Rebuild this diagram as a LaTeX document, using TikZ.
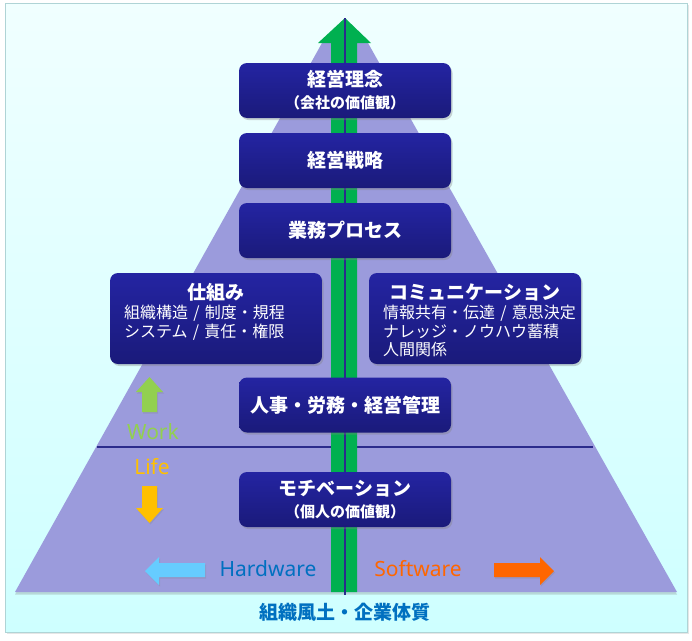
\documentclass[tikz,border=0pt]{standalone}
\usepackage{fontspec}
\setmainfont{Noto Sans CJK JP}
\newfontfamily\latinfont{Noto Sans}
\usetikzlibrary{positioning, shadows}
\definecolor{bgtop}{RGB}{240,255,255}
\definecolor{bgbot}{RGB}{206,255,255}
\definecolor{frameline}{RGB}{175,212,214}
\definecolor{pyramid}{RGB}{155,155,220}
\definecolor{boxtop}{RGB}{36,36,162}
\definecolor{boxbot}{RGB}{26,26,122}
\definecolor{axisgreen}{RGB}{0,176,80}
\definecolor{axisline}{RGB}{43,43,140}
\definecolor{workgreen}{RGB}{146,208,80}
\definecolor{lifeyellow}{RGB}{255,192,0}
\definecolor{hardblue}{RGB}{0,112,192}
\definecolor{hardarrow}{RGB}{102,204,255}
\definecolor{softorange}{RGB}{255,102,0}
\tikzstyle{level} = [rectangle, rounded corners=8pt, minimum width=212pt, minimum height=55pt, text centered, draw=none, top color=boxtop, bottom color=boxbot, text=white, font=\fontsize{19}{22}\selectfont\bfseries, drop shadow={shadow xshift=1.5pt, shadow yshift=-2pt, opacity=0.35}]
\tikzstyle{mech} = [level, minimum height=91pt, text width=184pt, align=left, text height=18pt, text depth=57pt, inner xsep=14pt, inner ysep=8pt, font=\fontsize{16}{18.5}\selectfont]
\tikzstyle{side} = [font=\latinfont\fontsize{21}{21}\selectfont]
\tikzstyle{blockarrow} = [draw=none, drop shadow={shadow xshift=1pt, shadow yshift=-1.5pt, opacity=0.25}]

\begin{document}
\begin{tikzpicture}[x=1pt, y=-1pt, node distance=70pt]
	\useasboundingbox (0,0) rectangle (692,640);
	% 背景とピラミッド
	\draw[frameline, top color=bgtop, bottom color=bgbot, drop shadow={shadow xshift=2pt, shadow yshift=-2pt, opacity=0.2}] (5,3) rectangle (687,632);
	\fill[pyramid, drop shadow={shadow xshift=0pt, shadow yshift=-2.5pt, opacity=0.3}] (322,43) -- (368,43) -- (677,592) -- (15,592) -- cycle;
	\draw[axisline, line width=2pt] (97,447) -- (593,447);
	% 中心の軸
	\coordinate (apex) at (345,18);
	\coordinate (foot) at (345,595);
	\fill[axisgreen] (apex) -- (371,43) -- (357,43) -- (357,592) -- (331,592) -- (331,43) -- (318,43) -- cycle;
	\draw[axisline, line width=2pt] (apex) -- (foot);
	% 各階層
	\node (KR) [level, align=center] at (345,90.5) {経営理念\\{\fontsize{15}{22}\selectfont （会社の価値観）}};
	\node (SR) [level, below of=KR] {経営戦略};
	\node (PR) [level, below of=SR] {業務プロセス};
	\node (SK) [mech] at (216,318.5) {\makebox[184pt]{\fontsize{19}{19}\selectfont\bfseries 仕組み}\\[1pt]\mbox{組織構造 / 制度・規程}\\\mbox{システム / 責任・権限}};
	\node (CM) [mech, right of=SK, xshift=189pt] {\makebox[184pt]{\fontsize{19}{19}\selectfont\bfseries コミュニケーション}\\[1pt]\mbox{情報共有・伝達 / 意思決定}\\\mbox{ナレッジ・ノウハウ蓄積}\\\mbox{人間関係}};
	\node (JK) [level, below of=PR, yshift=-104.5pt] {人事・労務・経営管理};
	\node (MV) [level, align=center, below of=JK, yshift=-24.5pt] {モチベーション\\{\fontsize{15}{22}\selectfont （個人の価値観）}};
	% Work / Life
	\fill[workgreen, blockarrow] (149.5,377) -- (163,392) -- (157,392) -- (157,412) -- (142,412) -- (142,392) -- (136,392) -- cycle;
	\node (WK) [side, text=workgreen] at (153,432) {Work};
	\node (LF) [side, text=lifeyellow] at (152,467) {Life};
	\fill[lifeyellow, blockarrow] (149.5,523) -- (163,508) -- (157,508) -- (157,486) -- (142,486) -- (142,508) -- (136,508) -- cycle;
	% Hardware / Software
	\fill[hardarrow, blockarrow] (145,571) -- (159,557) -- (159,563) -- (205,563) -- (205,577) -- (159,577) -- (159,585) -- cycle;
	\node (HW) [side, text=hardblue] at (268,569) {Hardware};
	\node (SW) [side, text=softorange] at (418,569) {Software};
	\fill[softorange, blockarrow] (554,571) -- (540,557) -- (540,563) -- (494,563) -- (494,577) -- (540,577) -- (540,585) -- cycle;
	\node (BS) [text=hardblue, font=\fontsize{19}{19}\selectfont\bfseries] at (345,612) {組織風土・企業体質};
\end{tikzpicture}
\end{document}
